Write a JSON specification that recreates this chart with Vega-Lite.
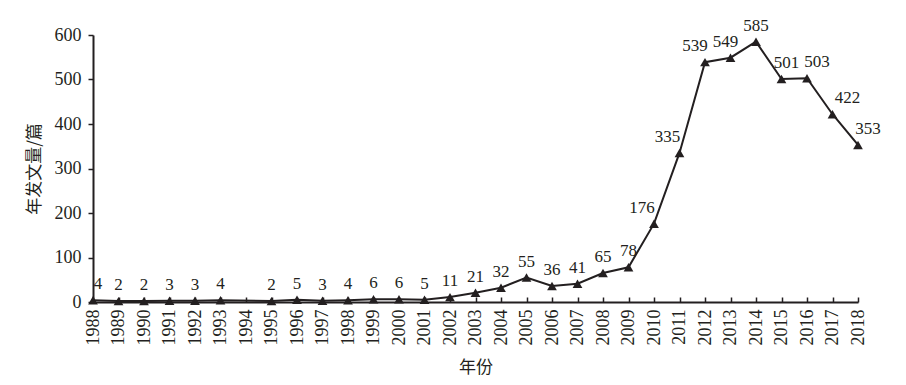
{
  "$schema": "https://vega.github.io/schema/vega-lite/v6.json",
  "autosize": "none",
  "width": 765,
  "height": 267,
  "padding": {"left": 93, "top": 35, "right": 48, "bottom": 83},
  "background": "white",
  "config": {
    "view": {"stroke": null},
    "axis": {"grid": false, "domainColor": "#231f20", "tickColor": "#231f20", "labelColor": "#231f20", "titleColor": "#231f20", "labelFont": "Liberation Serif", "titleFont": "Noto Sans CJK SC", "titleFontWeight": "normal"},
    "text": {"font": "Liberation Serif", "fontSize": 17, "color": "#231f20", "dy": -16, "baseline": "middle"}
  },
  "data": {
    "values": [
      {"year": "1988", "value": 4}, {"year": "1989", "value": 2}, {"year": "1990", "value": 2},
      {"year": "1991", "value": 3}, {"year": "1992", "value": 3}, {"year": "1993", "value": 4},
      {"year": "1994", "value": null}, {"year": "1995", "value": 2}, {"year": "1996", "value": 5},
      {"year": "1997", "value": 3}, {"year": "1998", "value": 4}, {"year": "1999", "value": 6},
      {"year": "2000", "value": 6}, {"year": "2001", "value": 5}, {"year": "2002", "value": 11},
      {"year": "2003", "value": 21}, {"year": "2004", "value": 32}, {"year": "2005", "value": 55},
      {"year": "2006", "value": 36}, {"year": "2007", "value": 41}, {"year": "2008", "value": 65},
      {"year": "2009", "value": 78}, {"year": "2010", "value": 176}, {"year": "2011", "value": 335},
      {"year": "2012", "value": 539}, {"year": "2013", "value": 549}, {"year": "2014", "value": 585},
      {"year": "2015", "value": 501}, {"year": "2016", "value": 503}, {"year": "2017", "value": 422},
      {"year": "2018", "value": 353}
    ]
  },
  "transform": [{"filter": "datum.value != null"}],
  "encoding": {
    "x": {
      "field": "year", "type": "ordinal",
      "scale": {"type": "point", "padding": 0, "domain": ["1988","1989","1990","1991","1992","1993","1994","1995","1996","1997","1998","1999","2000","2001","2002","2003","2004","2005","2006","2007","2008","2009","2010","2011","2012","2013","2014","2015","2016","2017","2018"]},
      "axis": {"title": "年份", "titleFontSize": 17, "titlePadding": 14, "labelAngle": 270, "labelFontSize": 18, "labelPadding": 12, "tickSize": -5, "tickWidth": 1.5, "domainWidth": 2}
    },
    "y": {
      "field": "value", "type": "quantitative",
      "scale": {"domain": [0, 600], "nice": false},
      "axis": {"title": "年发文量/篇", "titleFontSize": 17, "titlePadding": 11, "values": [0,100,200,300,400,500,600], "labelFontSize": 18, "labelPadding": 7, "tickSize": 5, "tickWidth": 1.5, "domainWidth": 2}
    }
  },
  "layer": [
    {"mark": {"type": "line", "color": "#231f20", "strokeWidth": 2}},
    {"mark": {"type": "point", "shape": "triangle-up", "filled": true, "color": "#231f20", "size": 95, "opacity": 1}},
    {
      "transform": [{"filter": "(datum.value < 100 && datum.year != '1988') || datum.year == '2014'"}],
      "mark": {"type": "text"},
      "encoding": {"text": {"field": "value", "type": "quantitative"}}
    },
    {
      "transform": [{"filter": "datum.year == '1988'"}],
      "mark": {"type": "text", "dx": 5},
      "encoding": {"text": {"field": "value", "type": "quantitative"}}
    },
    {
      "transform": [{"filter": "datum.year == '2010' || datum.year == '2011'"}],
      "mark": {"type": "text", "dx": -12},
      "encoding": {"text": {"field": "value", "type": "quantitative"}}
    },
    {
      "transform": [{"filter": "datum.year == '2012'"}],
      "mark": {"type": "text", "dx": -10},
      "encoding": {"text": {"field": "value", "type": "quantitative"}}
    },
    {
      "transform": [{"filter": "datum.year == '2013'"}],
      "mark": {"type": "text", "dx": -5},
      "encoding": {"text": {"field": "value", "type": "quantitative"}}
    },
    {
      "transform": [{"filter": "datum.year == '2015'"}],
      "mark": {"type": "text", "dx": 5},
      "encoding": {"text": {"field": "value", "type": "quantitative"}}
    },
    {
      "transform": [{"filter": "datum.year == '2016' || datum.year == '2018'"}],
      "mark": {"type": "text", "dx": 10},
      "encoding": {"text": {"field": "value", "type": "quantitative"}}
    },
    {
      "transform": [{"filter": "datum.year == '2017'"}],
      "mark": {"type": "text", "dx": 15},
      "encoding": {"text": {"field": "value", "type": "quantitative"}}
    }
  ]
}
